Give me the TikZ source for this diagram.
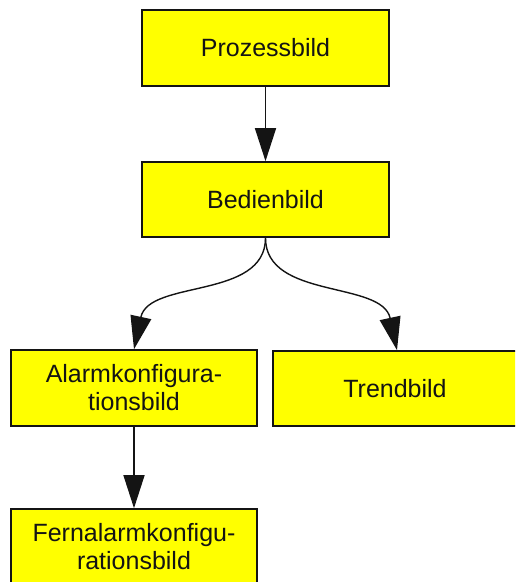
\documentclass[tikz,border=0pt]{standalone}
\usepackage{fontspec}
\setmainfont{Liberation Sans}
\usetikzlibrary{arrows.meta}
\definecolor{boxyellow}{RGB}{255,255,0}
\definecolor{ink}{RGB}{20,20,20}
\tikzset{
  screen/.style={draw=ink, line width=1.6pt, fill=boxyellow, inner sep=0pt,
    align=center, font=\fontsize{25}{28}\selectfont, text=ink},
  link/.style={draw=ink, line width=1.4pt,
    -{Triangle[length=33pt,width=21pt]}}
}
\begin{document}
\begin{tikzpicture}[x=1pt,y=-1pt]
  \useasboundingbox (0,0) rectangle (515,582);
  \clip (0,0) rectangle (515,582);
  % picture nodes
  \node[screen, minimum width=247pt, minimum height=76pt] (proz) at (265.5,48) {Prozessbild};
  \node[screen, minimum width=247pt, minimum height=75pt] (bed) at (265.5,199.5) {Bedienbild};
  \node[screen, minimum width=246pt, minimum height=76pt] (alarm) at (134,388) {Alarmkonfigura-\\tionsbild};
  \node[screen, minimum width=244pt, minimum height=75pt] (trend) at (395,388.5) {Trendbild};
  \node[screen, minimum width=246pt, minimum height=76pt] (fern) at (134,547) {Fernalarmkonfigu-\\rationsbild};
  % connectors
  \draw[link] (proz.south) -- (bed.north);
  \draw[link] (bed.south) .. controls +(0,62) and +(15,-70) .. (alarm.north);
  \draw[link] (bed.south) .. controls +(0,62) and +(-15,-70) .. ([xshift=2pt]trend.north);
  \draw[link] (alarm.south) -- (fern.north);
\end{tikzpicture}
\end{document}
